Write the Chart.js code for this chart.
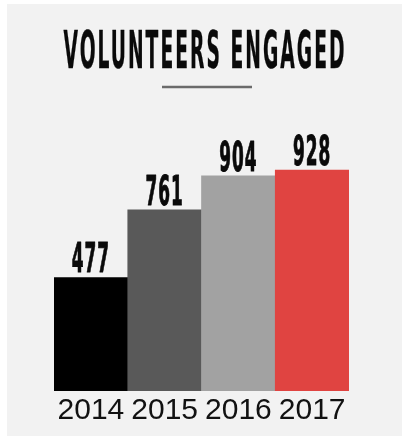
<!DOCTYPE html>
<html>
<head>
<meta charset="utf-8">
<script src="https://cdn.jsdelivr.net/npm/chart.js@4"></script>
<style>
  html, body { margin: 0; padding: 0; background: #ffffff; }
  #wrap { width: 402px; height: 436px; position: relative; }
</style>
</head>
<body>
<div id="wrap"><canvas id="myChart"></canvas></div>
<script>
    var years = ['2014', '2015', '2016', '2017']
    var volunteers = [477, 761, 904, 928]
    var barColors = ['#000000', '#595959', '#a2a2a2', '#e04441']
    var chartTitle = 'VOLUNTEERS ENGAGED'

    var narrowFont = '"Liberation Sans Narrow", "DejaVu Sans Condensed", "Arial Narrow", sans-serif'

    // squeeze text sideways so it looks like the tall condensed face in the picture
    function drawSqueezed(ctx, text, x, y, size, targetWidth, spacing, weight) {
        ctx.save()
        ctx.font = 'bold ' + size + 'px ' + narrowFont
        ctx.letterSpacing = spacing + 'px'
        var w = ctx.measureText(text).width
        var sx = targetWidth / w
        ctx.translate(x, y)
        ctx.scale(sx, 1)
        ctx.textAlign = 'center'
        ctx.textBaseline = 'alphabetic'
        ctx.fillStyle = '#0a0a0a'
        ctx.strokeStyle = '#0a0a0a'
        ctx.lineWidth = weight
        ctx.lineJoin = 'round'
        ctx.fillText(text, 0, 0)
        if (weight > 0) ctx.strokeText(text, 0, 0)
        ctx.restore()
    }

    var panelPlugin = {
        id: 'panel',
        beforeDraw: function(chart) {
            var ctx = chart.ctx
            ctx.save()
            ctx.fillStyle = '#ffffff'
            ctx.fillRect(0, 0, chart.width, chart.height)
            ctx.fillStyle = '#f2f2f2'
            ctx.fillRect(7, 4, chart.width - 7, chart.height - 4)
            ctx.restore()

            // title + short rule under it
            drawSqueezed(ctx, chartTitle, 205, 68, 51, 283, 5, 0.4)
            ctx.save()
            ctx.strokeStyle = '#6b6b6b'
            ctx.lineWidth = 2.5
            ctx.beginPath()
            ctx.moveTo(162, 87)
            ctx.lineTo(252, 87)
            ctx.stroke()
            ctx.restore()
        },
        afterDatasetsDraw: function(chart) {
            var ctx = chart.ctx
            var meta = chart.getDatasetMeta(0)
            meta.data.forEach(function(bar, i) {
                var txt = String(volunteers[i])
                drawSqueezed(ctx, txt, bar.x, bar.y - 5, 40, 12.7 * txt.length, 2, 1)
            })
        }
    }

    var ctx = document.getElementById('myChart').getContext('2d');
    var myChart = new Chart(ctx, {
        type: 'bar',
        data: {
            labels: years,
            datasets: [{
                label: 'Volunteers engaged',
                data: volunteers,
                backgroundColor: barColors,
                borderWidth: 0,
                barPercentage: 1.0,
                categoryPercentage: 1.0
            }]
        },
        plugins: [panelPlugin],
        options: {
            responsive: true,
            maintainAspectRatio: false,
            animation: false,
            layout: {
                padding: { top: 153, left: 54, right: 53, bottom: 5 }
            },
            plugins: {
                legend: { display: false },
                tooltip: { enabled: false }
            },
            scales: {
                x: {
                    grid: { display: false, drawTicks: false },
                    border: { display: false },
                    ticks: {
                        color: '#111111',
                        padding: 2,
                        font: { family: '"Liberation Sans", Arial, sans-serif', size: 30 }
                    }
                },
                y: {
                    display: false,
                    min: 0,
                    max: 1000
                }
            }
        }
    });
</script>
</body>
</html>
